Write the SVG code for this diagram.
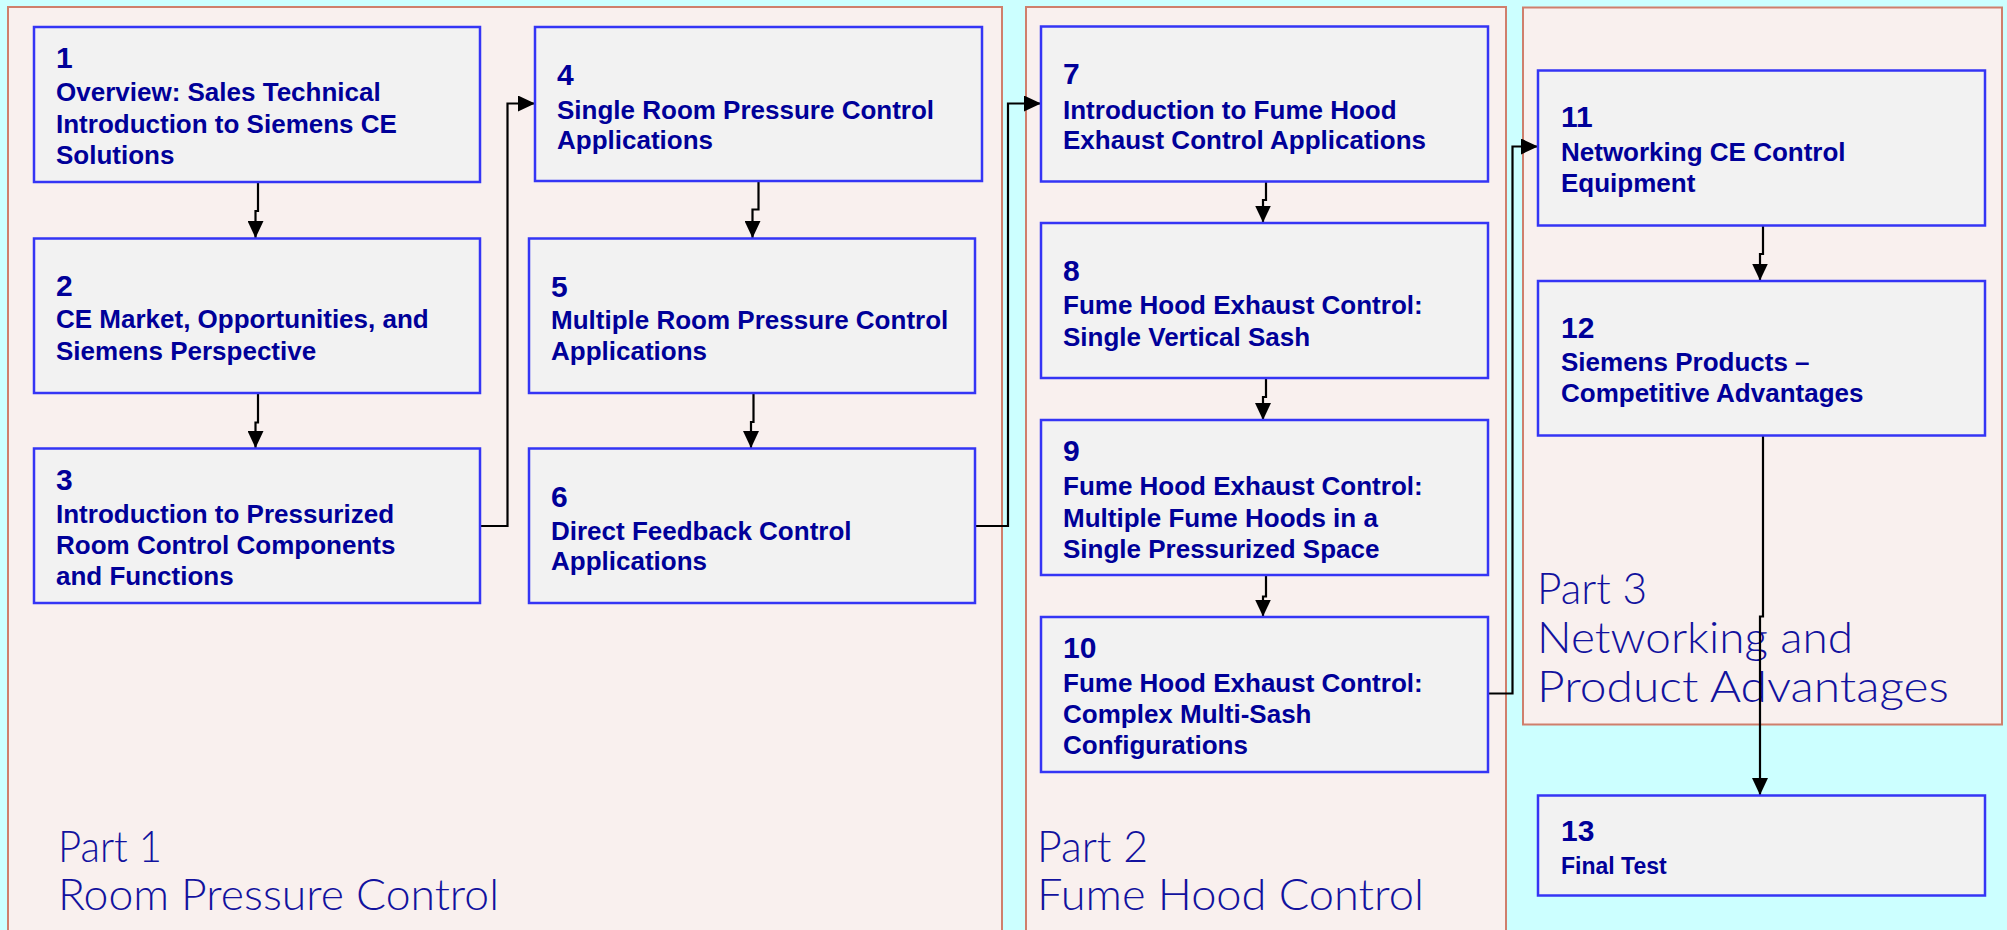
<svg xmlns="http://www.w3.org/2000/svg" width="2007" height="930" viewBox="0 0 2007 930">
<defs>
<style>
.panel{fill:#F9F0EE;stroke:#CF7F6C;stroke-width:2}
.box{fill:#F2F2F2;stroke:#3535F5;stroke-width:2.5}
.num{font-family:"Liberation Sans",Arial,sans-serif;font-weight:bold;font-size:30px;fill:#000099}
.txt{font-family:"Liberation Sans",Arial,sans-serif;font-weight:bold;font-size:26px;fill:#000099}
.part{font-family:Lato,"Liberation Sans",sans-serif;font-weight:300;font-size:43px;fill:#12129E}
.conn{fill:none;stroke:#000;stroke-width:2.2;marker-end:url(#arr)}
</style>
<marker id="arr" viewBox="0 0 17 16" refX="17" refY="8" markerWidth="17" markerHeight="16" markerUnits="userSpaceOnUse" orient="auto">
<path d="M0,0 L17,8 L0,16 z" fill="#000"/>
</marker>
</defs>
<rect x="0" y="0" width="2007" height="930" fill="#CCFFFF"/>
<g id="panel1"><rect class="panel" x="8" y="7" width="994" height="940"/>
<text class="part" x="58" y="862" textLength="104" lengthAdjust="spacingAndGlyphs">Part 1</text><text class="part" x="58" y="910" textLength="441" lengthAdjust="spacingAndGlyphs">Room Pressure Control</text></g>
<g id="panel2"><rect class="panel" x="1026" y="7" width="480" height="940"/>
<text class="part" x="1037" y="862" textLength="111" lengthAdjust="spacingAndGlyphs">Part 2</text><text class="part" x="1037" y="910" textLength="387" lengthAdjust="spacingAndGlyphs">Fume Hood Control</text></g>
<g id="panel3"><rect class="panel" x="1523" y="7.5" width="479" height="717"/>
<text class="part" x="1537" y="604" textLength="110" lengthAdjust="spacingAndGlyphs">Part 3</text><text class="part" x="1537" y="653" textLength="316" lengthAdjust="spacingAndGlyphs">Networking and</text><text class="part" x="1537" y="702" textLength="412" lengthAdjust="spacingAndGlyphs">Product Advantages</text></g>
<g id="connectors">
<path class="conn" d="M258,182 V211 H255.5 V238"/>
<path class="conn" d="M258,393 V422.5 H255.5 V448"/>
<path class="conn" d="M480,526 H507.5 V103.5 H535"/>
<path class="conn" d="M758.5,181 V209.5 H752.5 V238"/>
<path class="conn" d="M753.5,393 V422 H751 V448"/>
<path class="conn" d="M975,526 H1008 V103.5 H1041"/>
<path class="conn" d="M1266,182 V200 H1263 V222.5"/>
<path class="conn" d="M1266,378 V397 H1263 V420"/>
<path class="conn" d="M1266,575 V596.5 H1263 V616.5"/>
<path class="conn" d="M1488,693.5 H1512.5 V146.5 H1538"/>
<path class="conn" d="M1763,225 V254 H1760 V280.5"/>
<path class="conn" d="M1763,435 V616.5 H1760 V795"/>
</g>
<g id="n1"><rect class="box" x="34" y="27" width="446" height="155"/>
<text class="num" x="56" y="68">1</text>
<text class="txt" x="56" y="101">Overview: Sales Technical</text><text class="txt" x="56" y="133">Introduction to Siemens CE</text><text class="txt" x="56" y="164">Solutions</text></g>
<g id="n2"><rect class="box" x="34" y="238.5" width="446" height="154.5"/>
<text class="num" x="56" y="296">2</text>
<text class="txt" x="56" y="328">CE Market, Opportunities, and</text><text class="txt" x="56" y="360">Siemens Perspective</text></g>
<g id="n3"><rect class="box" x="34" y="448.5" width="446" height="154.5"/>
<text class="num" x="56" y="490">3</text>
<text class="txt" x="56" y="523">Introduction to Pressurized</text><text class="txt" x="56" y="554">Room Control Components</text><text class="txt" x="56" y="585">and Functions</text></g>
<g id="n4"><rect class="box" x="535" y="27" width="447" height="154"/>
<text class="num" x="557" y="85">4</text>
<text class="txt" x="557" y="118.5">Single Room Pressure Control</text><text class="txt" x="557" y="148.5">Applications</text></g>
<g id="n5"><rect class="box" x="529" y="238.5" width="446" height="154.5"/>
<text class="num" x="551" y="296.5">5</text>
<text class="txt" x="551" y="329">Multiple Room Pressure Control</text><text class="txt" x="551" y="359.5">Applications</text></g>
<g id="n6"><rect class="box" x="529" y="448.5" width="446" height="154.5"/>
<text class="num" x="551" y="507">6</text>
<text class="txt" x="551" y="539.5">Direct Feedback Control</text><text class="txt" x="551" y="570">Applications</text></g>
<g id="n7"><rect class="box" x="1041" y="26.5" width="447" height="155"/>
<text class="num" x="1063" y="84">7</text>
<text class="txt" x="1063" y="118.5">Introduction to Fume Hood</text><text class="txt" x="1063" y="149">Exhaust Control Applications</text></g>
<g id="n8"><rect class="box" x="1041" y="223" width="447" height="155"/>
<text class="num" x="1063" y="280.5">8</text>
<text class="txt" x="1063" y="314">Fume Hood Exhaust Control:</text><text class="txt" x="1063" y="346">Single Vertical Sash</text></g>
<g id="n9"><rect class="box" x="1041" y="420" width="447" height="155"/>
<text class="num" x="1063" y="460.5">9</text>
<text class="txt" x="1063" y="495">Fume Hood Exhaust Control:</text><text class="txt" x="1063" y="526.5">Multiple Fume Hoods in a</text><text class="txt" x="1063" y="557.5">Single Pressurized Space</text></g>
<g id="n10"><rect class="box" x="1041" y="617" width="447" height="155"/>
<text class="num" x="1063" y="658">10</text>
<text class="txt" x="1063" y="691.5">Fume Hood Exhaust Control:</text><text class="txt" x="1063" y="723">Complex Multi-Sash</text><text class="txt" x="1063" y="754">Configurations</text></g>
<g id="n11"><rect class="box" x="1538" y="70.5" width="447" height="155"/>
<text class="num" x="1561" y="127">11</text>
<text class="txt" x="1561" y="160.5">Networking CE Control</text><text class="txt" x="1561" y="191.5">Equipment</text></g>
<g id="n12"><rect class="box" x="1538" y="281" width="447" height="154.5"/>
<text class="num" x="1561" y="338">12</text>
<text class="txt" x="1561" y="370.5">Siemens Products –</text><text class="txt" x="1561" y="401.5">Competitive Advantages</text></g>
<g id="n13"><rect class="box" x="1538" y="795.5" width="447" height="100"/>
<text class="num" x="1561" y="840.5">13</text>
<text class="txt" x="1561" y="874" style="font-size:23px">Final Test</text></g>
</svg>
